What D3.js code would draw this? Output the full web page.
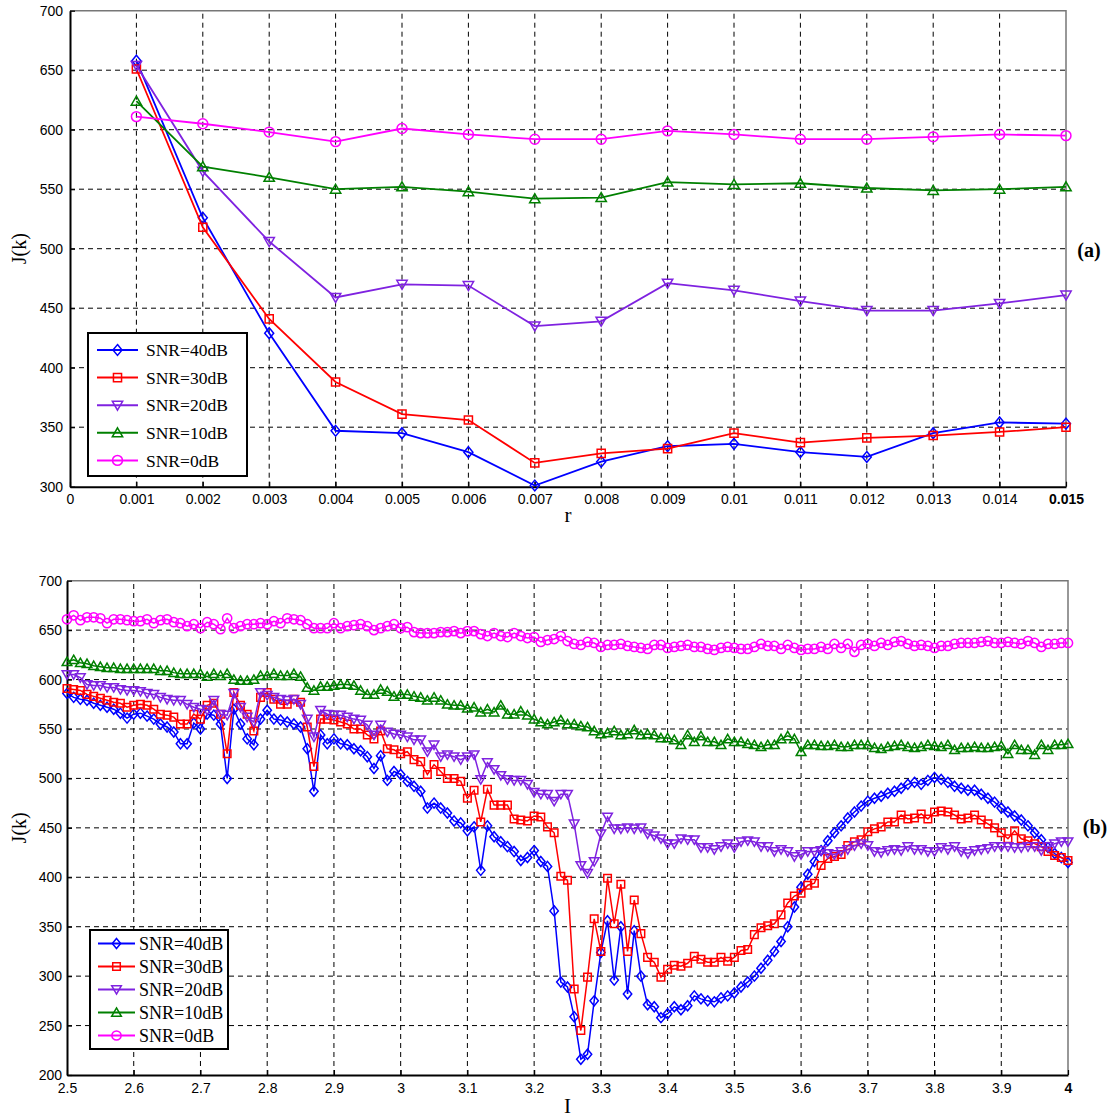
<!DOCTYPE html>
<html>
<head>
<meta charset="utf-8">
<script src="https://cdn.jsdelivr.net/npm/d3@7"></script>
<style>
  body { margin: 0; background: #fff; }
  svg { display: block; }
</style>
</head>
<body>
<div id="chart"></div>
<script>
// ---- shared series info ----
const seriesNames = ['SNR=40dB', 'SNR=30dB', 'SNR=20dB', 'SNR=10dB', 'SNR=0dB'];
const seriesColors = ['#0000ff', '#ff0000', '#7f22e0', '#008000', '#ff00ff'];
const seriesMarkers = ['diamond', 'square', 'triDown', 'triUp', 'circle'];

// ---- panel (a): J(k) vs r ----
const rValues = [0.001, 0.002, 0.003, 0.004, 0.005, 0.006, 0.007, 0.008, 0.009, 0.010, 0.011, 0.012, 0.013, 0.014, 0.015];
const a40 = [658, 526, 429, 347, 345, 329, 301, 321, 334, 336, 329, 325, 345, 354, 353];
const a30 = [651, 518, 441, 388, 361, 356, 320, 328, 332, 345, 337, 341, 343, 346, 350];
const a20 = [654, 565, 506, 459, 470, 469, 435, 439, 471, 465, 456, 448, 448, 454, 461];
const a10 = [624, 569, 560, 550, 552, 548, 542, 543, 556, 554, 555, 551, 549, 550, 552];
const a0  = [611, 605, 598, 590, 601, 596, 592, 592, 599, 596, 592, 592, 594, 596, 595];
const aTicksX = [0, 0.001, 0.002, 0.003, 0.004, 0.005, 0.006, 0.007, 0.008, 0.009, 0.01, 0.011, 0.012, 0.013, 0.014, 0.015];
const aTicksY = [300, 350, 400, 450, 500, 550, 600, 650, 700];

// ---- panel (b): J(k) vs I, sampled every 0.01 from 2.5 to 4 ----
const iStart = 2.5, iStep = 0.01;
const b40 = [
  586,582,580,579,576,574,572,570,566,561,
  565,566,563,560,555,552,547,535,535,556,
  550,565,564,555,500,570,555,540,534,560,
  569,560,559,557,555,552,530,487,544,535,
  540,535,534,530,528,522,510,523,498,507,
  504,497,492,487,470,475,470,465,457,455,
  447,451,407,452,441,436,431,426,417,420,
  427,416,411,366,294,289,259,216,221,275,
  324,356,296,350,282,346,300,271,269,258,
  262,269,266,270,280,277,275,274,278,280,
  283,289,294,300,308,316,325,335,350,370,
  390,403,416,427,437,445,452,460,466,472,
  477,480,482,485,487,490,494,496,494,498,
  501,499,496,492,490,488,488,484,480,476,
  470,466,462,458,452,445,438,430,424,420,415
];
const b30 = [
  591,590,589,585,583,581,579,577,576,572,
  574,575,574,570,565,564,562,555,555,565,
  560,574,576,565,525,587,574,565,548,582,
  587,580,575,575,580,577,552,512,560,560,
  559,557,555,550,550,544,540,548,530,529,
  525,527,519,517,504,514,507,500,500,497,
  480,488,456,489,473,473,473,459,458,457,
  462,461,451,445,401,397,287,245,299,358,
  325,399,353,393,325,377,343,319,314,299,
  307,311,310,313,320,317,314,314,319,315,
  319,326,327,342,349,351,353,362,374,381,
  384,392,394,412,419,421,423,432,436,438,
  446,449,451,456,456,463,459,460,464,459,
  466,467,466,463,459,460,463,458,454,450,
  445,439,447,439,437,434,431,426,422,420,417
];
const b20 = [
  605,605,602,595,594,594,592,592,590,589,
  589,588,586,585,582,580,579,579,575,572,
  570,569,579,565,564,586,572,562,557,587,
  584,582,580,579,580,575,560,542,569,565,
  564,564,562,560,559,554,544,554,547,545,
  544,542,539,539,527,534,522,524,522,519,
  522,524,499,516,509,503,499,498,498,494,
  486,484,484,477,484,484,454,412,404,416,
  444,461,449,449,450,449,450,444,442,439,
  434,434,439,438,438,430,430,428,431,434,
  430,436,437,436,431,431,426,428,426,421,
  423,426,426,427,424,423,426,428,432,434,
  432,426,425,427,428,427,431,428,428,426,
  426,430,428,431,426,424,427,428,429,431,
  431,431,430,430,431,431,427,431,434,436,436
];
const b10 = [
  618,620,617,616,614,613,612,612,611,611,
  611,611,611,611,609,609,607,606,606,606,
  606,603,606,604,606,600,599,599,600,604,
  604,606,604,604,606,603,592,589,593,593,
  594,595,595,594,589,585,585,590,588,583,
  585,585,583,582,579,582,579,575,574,574,
  571,572,567,570,567,574,565,565,568,564,
  560,557,555,557,559,555,555,553,552,548,
  545,546,548,544,545,549,544,545,544,541,
  541,539,534,544,537,543,537,537,534,540,
  537,537,535,534,532,534,534,540,543,540,
  527,534,534,533,533,534,532,532,534,534,
  534,531,530,532,533,534,532,531,532,534,
  533,532,534,529,531,531,532,531,531,532,
  533,525,534,529,529,524,534,529,534,534,535
];
const b0 = [
  661,665,660,663,663,662,657,661,661,660,
  659,659,661,657,660,661,658,657,654,656,
  652,658,656,651,662,652,654,656,656,657,
  656,659,657,662,661,660,656,652,652,652,
  657,652,654,655,656,654,650,652,654,656,
  652,653,648,647,647,647,648,648,649,647,
  649,649,646,644,647,644,643,647,644,642,
  643,638,640,641,644,639,636,635,638,637,
  633,635,635,636,634,633,632,631,635,635,
  632,633,634,635,633,633,631,630,632,633,
  632,631,631,633,636,634,634,631,635,632,
  630,631,631,633,631,636,632,636,628,635,
  636,634,637,635,638,639,636,634,635,634,
  632,634,634,636,637,637,637,638,639,637,
  637,638,637,636,639,637,633,636,636,637,637
];
const bTicksX = [2.5, 2.6, 2.7, 2.8, 2.9, 3, 3.1, 3.2, 3.3, 3.4, 3.5, 3.6, 3.7, 3.8, 3.9, 4];
const bTicksY = [200, 250, 300, 350, 400, 450, 500, 550, 600, 650, 700];
const iValues = b40.map((_, k) => +(iStart + k * iStep).toFixed(2));

const width = 1112, height = 1118;
const svg = d3.select('#chart').append('svg')
    .attr('width', width)
    .attr('height', height)
    .style('background', '#fff');

// marker shapes, MATLAB-like, centred on the point
function markerPath(type, s) {
    switch (type) {
        case 'diamond': return `M0,${-s * 1.2}L${s},0L0,${s * 1.2}L${-s},0Z`;
        case 'square': return `M${-s * 0.9},${-s * 0.9}h${s * 1.8}v${s * 1.8}h${-s * 1.8}Z`;
        case 'triUp': return `M0,${-s * 1.1}L${s * 1.15},${s * 0.9}L${-s * 1.15},${s * 0.9}Z`;
        case 'triDown': return `M0,${s * 1.1}L${s * 1.15},${-s * 0.9}L${-s * 1.15},${-s * 0.9}Z`;
        default: {
            const r = s * 1.1;
            return `M${r},0A${r},${r} 0 1,1 ${-r},0A${r},${r} 0 1,1 ${r},0Z`;
        }
    }
}

function drawPanel(o) {
    const g = svg.append('g');
    const x = d3.scaleLinear().domain(o.xDomain).range(o.xRange);
    const y = d3.scaleLinear().domain(o.yDomain).range(o.yRange);
    const [x0, x1] = o.xRange, [y0, y1] = o.yRange;

    // dashed grid
    g.selectAll('.vgrid')
        .data(o.xTicks.slice(1, -1))
        .enter().append('line')
        .attr('x1', d => x(d)).attr('x2', d => x(d))
        .attr('y1', y0).attr('y2', y1)
        .attr('stroke', '#000').attr('stroke-width', 1)
        .attr('stroke-dasharray', '5,4');
    g.selectAll('.hgrid')
        .data(o.yTicks.slice(1, -1))
        .enter().append('line')
        .attr('x1', x0).attr('x2', x1)
        .attr('y1', d => y(d)).attr('y2', d => y(d))
        .attr('stroke', '#000').attr('stroke-width', 1)
        .attr('stroke-dasharray', '5,4');

    // top / right box edges
    g.append('path')
        .attr('d', `M${x0},${y1}H${x1}V${y0}`)
        .attr('fill', 'none').attr('stroke', '#777').attr('stroke-width', 1.5);

    // axes
    const xAxis = g.append('g')
        .attr('transform', `translate(0,${y0})`)
        .call(d3.axisBottom(x).tickValues(o.xTicks).tickFormat(d => String(d))
            .tickSizeInner(-5).tickSizeOuter(0).tickPadding(o.xPad));
    const yAxis = g.append('g')
        .attr('transform', `translate(${x0},0)`)
        .call(d3.axisLeft(y).tickValues(o.yTicks).tickFormat(d => String(d))
            .tickSizeInner(-5).tickSizeOuter(0).tickPadding(o.yPad));
    [xAxis, yAxis].forEach(ax => {
        ax.select('.domain').attr('stroke', '#000').attr('stroke-width', 2);
        ax.selectAll('.tick line').attr('stroke', '#000').attr('stroke-width', 1.2);
        ax.selectAll('text')
            .attr('fill', '#000')
            .style('font-family', '"Liberation Sans", Arial, sans-serif')
            .style('font-size', '14px');
    });
    // last x label shows bold in the original
    xAxis.selectAll('.tick text').filter((d, i, n) => i === n.length - 1)
        .style('font-weight', 'bold');

    // series
    const line = d3.line().x((d, i) => x(o.xs[i])).y(d => y(d));
    o.series.forEach((vals, si) => {
        g.append('path')
            .datum(vals)
            .attr('fill', 'none')
            .attr('stroke', seriesColors[si])
            .attr('stroke-width', o.lineW)
            .attr('d', line);
        g.selectAll(null)
            .data(vals)
            .enter().append('path')
            .attr('transform', (d, i) => `translate(${x(o.xs[i])},${y(d)})`)
            .attr('d', markerPath(seriesMarkers[si], o.markS))
            .attr('fill', 'none')
            .attr('stroke', seriesColors[si])
            .attr('stroke-width', 1.5);
    });

    // axis titles
    g.append('text')
        .attr('transform', `translate(${o.yLabelX},${(y0 + y1) / 2}) rotate(-90)`)
        .attr('text-anchor', 'middle')
        .attr('dy', '0.35em')
        .style('font-family', '"Liberation Serif", "Times New Roman", serif')
        .style('font-size', '20px')
        .text('J(k)');
    g.append('text')
        .attr('x', (x0 + x1) / 2)
        .attr('y', o.xLabelY)
        .attr('text-anchor', 'middle')
        .style('font-family', '"Liberation Serif", "Times New Roman", serif')
        .style('font-size', '21px')
        .text(o.xLabel);
    g.append('text')
        .attr('x', o.tagX)
        .attr('y', o.tagY)
        .attr('text-anchor', 'middle')
        .attr('dy', '0.35em')
        .style('font-family', '"Liberation Serif", "Times New Roman", serif')
        .style('font-size', '20px')
        .style('font-weight', 'bold')
        .text(o.tag);

    // legend
    const L = o.legend;
    const lg = g.append('g');
    lg.append('rect')
        .attr('x', L.x).attr('y', L.y)
        .attr('width', L.w).attr('height', L.h)
        .attr('fill', '#fff').attr('stroke', '#000').attr('stroke-width', 2);
    seriesNames.forEach((name, si) => {
        const cy = L.y + L.first + si * L.step;
        lg.append('line')
            .attr('x1', L.x + L.lineX0).attr('x2', L.x + L.lineX1)
            .attr('y1', cy).attr('y2', cy)
            .attr('stroke', seriesColors[si]).attr('stroke-width', 2);
        lg.append('path')
            .attr('transform', `translate(${L.x + (L.lineX0 + L.lineX1) / 2},${cy})`)
            .attr('d', markerPath(seriesMarkers[si], o.markS))
            .attr('fill', 'none')
            .attr('stroke', seriesColors[si]).attr('stroke-width', 1.5);
        lg.append('text')
            .attr('x', L.x + L.textX)
            .attr('y', cy)
            .attr('dy', '0.35em')
            .style('font-family', '"Liberation Serif", "Times New Roman", serif')
            .style('font-size', L.font + 'px')
            .text(name);
    });
}

drawPanel({
    xDomain: [0, 0.015], xRange: [70, 1066],
    yDomain: [300, 700], yRange: [486.7, 10.7],
    xTicks: aTicksX, yTicks: aTicksY,
    xs: rValues, series: [a40, a30, a20, a10, a0],
    xPad: 7, yPad: 7, lineW: 1.8, markS: 4.5,
    yLabelX: 19, xLabel: 'r', xLabelY: 522,
    tag: '(a)', tagX: 1089, tagY: 250,
    legend: { x: 88, y: 333, w: 159, h: 143, first: 17, step: 27.6,
              lineX0: 9, lineX1: 50, textX: 58, font: 17.5 }
});

drawPanel({
    xDomain: [2.5, 4], xRange: [67, 1068],
    yDomain: [200, 700], yRange: [1075, 580.7],
    xTicks: bTicksX, yTicks: bTicksY,
    xs: iValues, series: [b40, b30, b20, b10, b0],
    xPad: 8, yPad: 5, lineW: 1.5, markS: 4.2,
    yLabelX: 19, xLabel: 'I', xLabelY: 1113,
    tag: '(b)', tagX: 1095, tagY: 827,
    legend: { x: 90, y: 930, w: 138, h: 119, first: 13.5, step: 23,
              lineX0: 8, lineX1: 45, textX: 49, font: 18 }
});
</script>
</body>
</html>
